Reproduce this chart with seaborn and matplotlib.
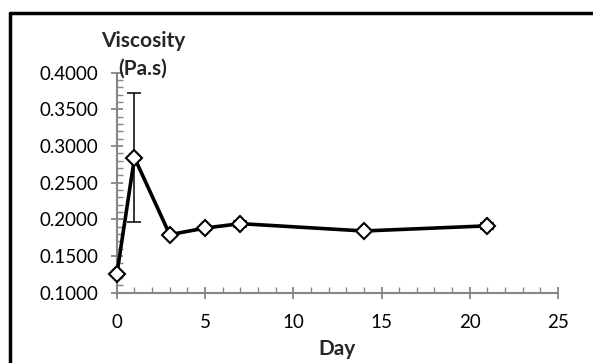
import numpy as np
import pandas as pd
import seaborn as sns
import matplotlib.pyplot as plt
from matplotlib.lines import Line2D
from matplotlib.ticker import MultipleLocator, FormatStrFormatter

sns.set_style("ticks")
plt.rcParams['font.family'] = ['Lato', 'DejaVu Sans']

days = [0, 1, 3, 5, 7, 14, 21]
viscosity = [0.125, 0.284, 0.179, 0.188, 0.194, 0.184, 0.191]
errors = [0.002, 0.088, 0.002, 0.002, 0.004, 0.001, 0.004]

df = pd.DataFrame({"Day": days, "Viscosity": viscosity})

fig = plt.figure(figsize=(5.93, 3.63), dpi=100)
ax = fig.add_axes([0.197, 0.194, 0.744, 0.606])

grey = "#868686"
ax.errorbar(days, viscosity, yerr=errors, fmt="none", ecolor="black",
            elinewidth=1.1, capsize=5, capthick=1.1, zorder=2, clip_on=False)
sns.lineplot(data=df, x="Day", y="Viscosity", ax=ax, color="black",
             linewidth=2.6, marker="D", markersize=8, markerfacecolor="white",
             markeredgecolor="black", markeredgewidth=1.5, zorder=3,
             clip_on=False)

ax.set_xlim(0, 25)
ax.set_ylim(0.1, 0.4)
ax.xaxis.set_major_locator(MultipleLocator(5))
ax.xaxis.set_minor_locator(MultipleLocator(1))
ax.yaxis.set_major_locator(MultipleLocator(0.05))
ax.yaxis.set_minor_locator(MultipleLocator(0.01))
ax.yaxis.set_major_formatter(FormatStrFormatter("%.4f"))

for side in ["top", "right"]:
    ax.spines[side].set_visible(False)
for side in ["left", "bottom"]:
    ax.spines[side].set_color(grey)
    ax.spines[side].set_linewidth(1.5)

ax.tick_params(which="major", direction="inout", length=9, width=1.3,
               color=grey, labelsize=13.5, labelcolor="black")
ax.tick_params(axis="x", which="major", pad=11)
ax.tick_params(axis="y", which="major", pad=9)
ax.tick_params(which="minor", direction="in", length=4, width=1,
               color=grey)

ax.set_xlabel("Day", fontsize=15, fontweight="bold", labelpad=6)
ax.set_ylabel("")
fig.text(143 / 593, 1 - 55 / 363, "Viscosity\n(Pa.s)", ha="center",
         va="center", fontsize=15, fontweight="bold", linespacing=1.5)

fig.add_artist(Line2D([10 / 593, 1], [1 - 13 / 363, 1 - 13 / 363],
                      color="black", linewidth=2.5, transform=fig.transFigure))
fig.add_artist(Line2D([10 / 593, 10 / 593], [1 - 13 / 363, 0],
                      color="black", linewidth=2.5, transform=fig.transFigure))

fig.savefig("out.png", dpi=100)
